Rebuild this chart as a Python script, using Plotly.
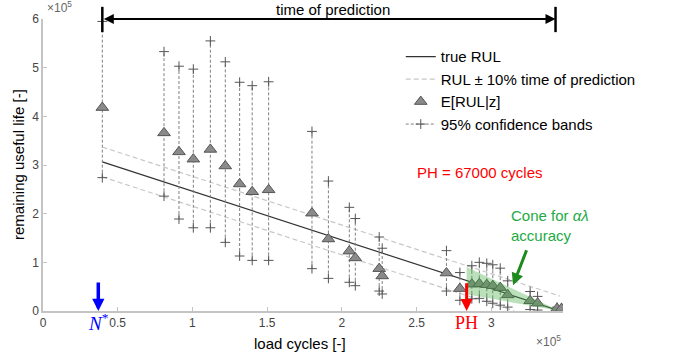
import plotly.graph_objects as go

# ---- data (load cycles and RUL in units of 1e5) ----
EOL = 3.46          # end of life
N_STAR = 0.397      # first prediction time
PH_X = 2.835        # prognostic horizon start
CONE_ALPHA = 0.45

pred_x = [0.397, 0.81, 0.91, 1.006, 1.12, 1.22, 1.316, 1.40, 1.51, 1.80,
          1.91, 2.05, 2.09, 2.25, 2.27, 2.70, 2.79,
          2.87, 2.92, 2.97, 3.01, 3.06, 3.11, 3.26, 3.31, 3.44, 3.47]
pred_mean = [4.18, 3.66, 3.27, 3.12, 3.32, 2.98, 2.61, 2.45, 2.49, 2.01,
             1.48, 1.23, 1.09, 0.87, 0.72, 0.78, 0.46,
             0.55, 0.56, 0.54, 0.52, 0.48, 0.33, 0.21, 0.16, 0.05, 0.05]
pred_upper = [5.95, 5.33, 5.03, 4.97, 5.55, 5.12, 4.70, 4.63, 4.71, 3.69,
              2.67, 2.13, 1.90, 1.52, 1.29, 1.24, 0.79,
              0.93, 1.00, 0.98, 0.95, 0.88, 0.62, 0.40, 0.30, 0.08, 0.07]
pred_lower = [2.74, 2.36, 1.89, 1.71, 1.71, 1.41, 1.13, 1.04, 1.04, 0.87,
              0.67, 0.59, 0.52, 0.41, 0.35, 0.41, 0.22,
              0.25, 0.26, 0.20, 0.16, 0.12, 0.08, 0.03, 0.02, 0.02, 0.02]

x_ticks = [0, 0.5, 1, 1.5, 2, 2.5, 3]
x_tick_labels = ["0", "0.5", "1", "1.5", "2", "2.5", "3"]
y_ticks = [0, 1, 2, 3, 4, 5, 6]
y_tick_labels = ["0", "1", "2", "3", "4", "5", "6"]

XMAX, YMAX = 3.48, 6.0
FONT = "Arial, Liberation Sans, sans-serif"
SERIF = "Liberation Serif, Times New Roman, serif"

pm = 0.1 * (EOL - N_STAR)

fig = go.Figure()

# true RUL
fig.add_trace(go.Scatter(x=[N_STAR, EOL], y=[EOL - N_STAR, 0], mode="lines",
                         line=dict(color="#333333", width=1.2), name="true RUL",
                         legendrank=1))
# +-10% lines
fig.add_trace(go.Scatter(x=[N_STAR, EOL], y=[EOL - N_STAR + pm, pm], mode="lines",
                         line=dict(color="#c8c8c8", width=1.2, dash="5px,3px"),
                         name="RUL ± 10% time of prediction", legendrank=2))
fig.add_trace(go.Scatter(x=[N_STAR, EOL - pm], y=[EOL - N_STAR - pm, 0], mode="lines",
                         line=dict(color="#c8c8c8", width=1.2, dash="5px,3px"),
                         showlegend=False))

# confidence bands
bx, by = [], []
for x, lo, up in zip(pred_x, pred_lower, pred_upper):
    bx += [x, x, None]
    by += [lo, up, None]
fig.add_trace(go.Scatter(x=bx, y=by, mode="lines+markers",
                         line=dict(color="#808080", width=1, dash="3px,2px"),
                         marker=dict(symbol="cross-thin", size=7,
                                     line=dict(color="#555555", width=1)),
                         name="95% confidence bands", legendrank=4))

# mean predictions
fig.add_trace(go.Scatter(x=pred_x, y=pred_mean, mode="markers",
                         marker=dict(symbol="triangle-up", size=11, color="#8a8a8a",
                                     line=dict(color="#555555", width=1)),
                         name="E[RUL|z]", legendrank=3))

# alpha-lambda cone
rul_ph = EOL - PH_X
fig.add_trace(go.Scatter(x=[PH_X, EOL, PH_X, PH_X],
                         y=[rul_ph * (1 + CONE_ALPHA), 0, rul_ph * (1 - CONE_ALPHA),
                            rul_ph * (1 + CONE_ALPHA)],
                         mode="lines", fill="toself", fillcolor="rgba(60,170,60,0.35)",
                         line=dict(width=0), showlegend=False, hoverinfo="skip"))

def px(v):
    return v / XMAX

def py(v):
    return v / YMAX

shapes = [
    dict(type="line", xref="paper", yref="paper", x0=px(N_STAR), x1=px(N_STAR),
         y0=py(5.73), y1=py(6.25), line=dict(color="black", width=2.5)),
    dict(type="line", xref="paper", yref="paper", x0=px(3.43), x1=px(3.43),
         y0=py(5.73), y1=py(6.25), line=dict(color="black", width=2.5)),
]

C = dict(xanchor="center", yanchor="middle")

annotations = [
    # time of prediction double arrow
    dict(x=3.43, y=6.0, ax=N_STAR, ay=6.0, xref="x", yref="y", axref="x", ayref="y",
         text="", showarrow=True, arrowside="end+start", arrowhead=2, arrowsize=1,
         arrowwidth=2, arrowcolor="black"),
    dict(x=px(1.94), y=py(6.19), xref="paper", yref="paper", text="time of prediction",
         showarrow=False, font=dict(family=FONT, size=15, color="black"), **C),
    # N* arrow
    dict(x=0.37, y=0, ax=0, ay=-30, xref="x", yref="y", text="", showarrow=True,
         arrowhead=2, arrowsize=0.7, arrowwidth=3.5, arrowcolor="#0000ff"),
    dict(x=px(0.37), y=-0.037, xref="paper", yref="paper", text="<i>N</i><sup>*</sup>",
         showarrow=False, font=dict(family=SERIF, size=19, color="#0000ff"), **C),
    # PH arrow
    dict(x=PH_X, y=0, ax=PH_X, ay=0.6, xref="x", yref="y", axref="x", ayref="y",
         text="", showarrow=True, arrowhead=2, arrowsize=0.8, arrowwidth=3,
         arrowcolor="#ff0000"),
    dict(x=px(PH_X), y=-0.04, xref="paper", yref="paper", text="PH",
         showarrow=False, font=dict(family=SERIF, size=18, color="#ff0000"), **C),
    dict(x=2.925, y=2.84, xref="x", yref="y", text="PH = 67000 cycles",
         showarrow=False, font=dict(family=FONT, size=15, color="#ff0000"), **C),
    # cone label and arrow
    dict(x=3.12, y=1.76, xref="x", yref="y", xanchor="left", yanchor="middle",
         text="Cone for <i>αλ</i><br>accuracy", align="left",
         showarrow=False, font=dict(family=FONT, size=15, color="#22aa44")),
    dict(x=3.146, y=0.53, ax=3.24, ay=1.28, xref="x", yref="y", axref="x", ayref="y",
         text="", showarrow=True, arrowhead=2, arrowsize=0.8, arrowwidth=3,
         arrowcolor="#1e8a1e"),
    # exponent labels
    dict(x=0.0, y=1.0, xref="paper", yref="paper", xanchor="left", yanchor="bottom",
         text="×10<sup>5</sup>", showarrow=False, xshift=2, yshift=2,
         font=dict(family=FONT, size=12, color="#666666")),
    dict(x=1.0, y=-0.104, xref="paper", yref="paper", xanchor="right", yanchor="middle",
         text="×10<sup>5</sup>", showarrow=False,
         font=dict(family=FONT, size=12, color="#666666")),
    # axis titles
    dict(x=0.494, y=-0.112, xref="paper", yref="paper", text="load cycles [-]",
         showarrow=False, font=dict(family=FONT, size=15, color="black"), **C),
    dict(x=-0.048, y=0.5, xref="paper", yref="paper", text="remaining useful life [-]",
         textangle=-90, showarrow=False, font=dict(family=FONT, size=15, color="black"),
         **C),
]

axis_common = dict(showgrid=False, zeroline=False, showline=True, linecolor="#c4c4c4",
                   linewidth=1.5, ticks="inside", ticklen=4, tickcolor="#c4c4c4",
                   tickfont=dict(family=FONT, size=12, color="#444444"))

fig.update_layout(
    width=684, height=364, autosize=False,
    margin=dict(l=43, r=121, t=17, b=53),
    paper_bgcolor="white", plot_bgcolor="white",
    xaxis=dict(range=[0, XMAX], tickvals=x_ticks, ticktext=x_tick_labels, **axis_common),
    yaxis=dict(range=[0, YMAX], tickvals=y_ticks, ticktext=y_tick_labels, **axis_common),
    shapes=shapes, annotations=annotations,
    legend=dict(x=0.688, y=0.927, xanchor="left", yanchor="top",
                bgcolor="rgba(0,0,0,0)", font=dict(family=FONT, size=15, color="black"),
                itemwidth=30),
    showlegend=True,
)

fig.write_html("out.html")
